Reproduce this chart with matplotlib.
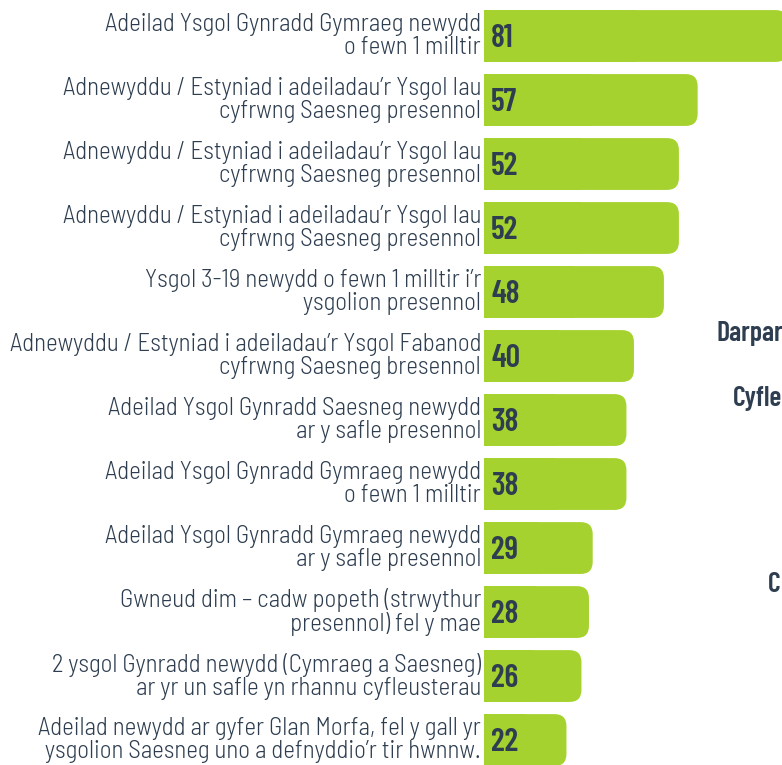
import matplotlib.pyplot as plt
from matplotlib.patches import FancyBboxPatch, Rectangle

# data
labels = [
    "Adeilad Ysgol Gynradd Gymraeg newydd\no fewn 1 milltir",
    "Adnewyddu / Estyniad i adeiladau\u2019r Ysgol Iau\ncyfrwng Saesneg presennol",
    "Adnewyddu / Estyniad i adeiladau\u2019r Ysgol Iau\ncyfrwng Saesneg presennol",
    "Adnewyddu / Estyniad i adeiladau\u2019r Ysgol Iau\ncyfrwng Saesneg presennol",
    "Ysgol 3-19 newydd o fewn 1 milltir i\u2019r\nysgolion presennol",
    "Adnewyddu / Estyniad i adeiladau\u2019r Ysgol Fabanod\ncyfrwng Saesneg bresennol",
    "Adeilad Ysgol Gynradd Saesneg newydd\nar y safle presennol",
    "Adeilad Ysgol Gynradd Gymraeg newydd\no fewn 1 milltir",
    "Adeilad Ysgol Gynradd Gymraeg newydd\nar y safle presennol",
    "Gwneud dim \u2013 cadw popeth (strwythur\npresennol) fel y mae",
    "2 ysgol Gynradd newydd (Cymraeg a Saesneg)\nar yr un safle yn rhannu cyfleusterau",
    "Adeilad newydd ar gyfer Glan Morfa, fel y gall yr\nysgolion Saesneg uno a defnyddio\u2019r tir hwnnw.",
]
values = [81, 57, 52, 52, 48, 40, 38, 38, 29, 28, 26, 22]
side_texts = ["Darpar", "Cyfle", "C"]

green = "#a5d22f"
navy = "#2e3e50"
label_font = ["Barlow Semi Condensed", "DejaVu Sans"]
num_font = ["Barlow Condensed", "DejaVu Sans"]

fig = plt.figure(figsize=(7.82, 7.65), dpi=100)
ax = fig.add_axes([484 / 782, 0, 298 / 782, 1])
ax.set_xlim(0, 79.5)
ax.set_ylim(11.39, -0.5625)
ax.axis("off")

h = 0.81
for i, (lab, v) in enumerate(zip(labels, values)):
    # bar with rounded right end, square left end
    box = FancyBboxPatch((0, i - h / 2), v, h,
                         boxstyle="round,pad=0,rounding_size=3.2",
                         mutation_aspect=0.059, fc=green, ec="none")
    ax.add_patch(box)
    ax.add_patch(Rectangle((0, i - h / 2), v / 2, h, fc=green, ec="none"))
    ax.text(1.9, i + 0.04, str(v), ha="left", va="center", fontsize=23,
            fontweight=600, color=navy, family=num_font)
    ax.text(-0.8, i, lab, ha="right", va="center", fontsize=18,
            fontweight=300, color=navy, family=label_font, linespacing=1.0,
            clip_on=False)

# cut-off text on the right (part of another panel)
fig.text(716 / 782, 1 - 333 / 765, side_texts[0], ha="left", va="center",
         fontsize=20, fontweight=600, color=navy, family=num_font)
fig.text(733 / 782, 1 - 398 / 765, side_texts[1], ha="left", va="center",
         fontsize=20, fontweight=600, color=navy, family=num_font)
fig.text(768 / 782, 1 - 585 / 765, side_texts[2], ha="left", va="center",
         fontsize=20, fontweight=600, color=navy, family=num_font)

fig.savefig("out.png", dpi=100)
